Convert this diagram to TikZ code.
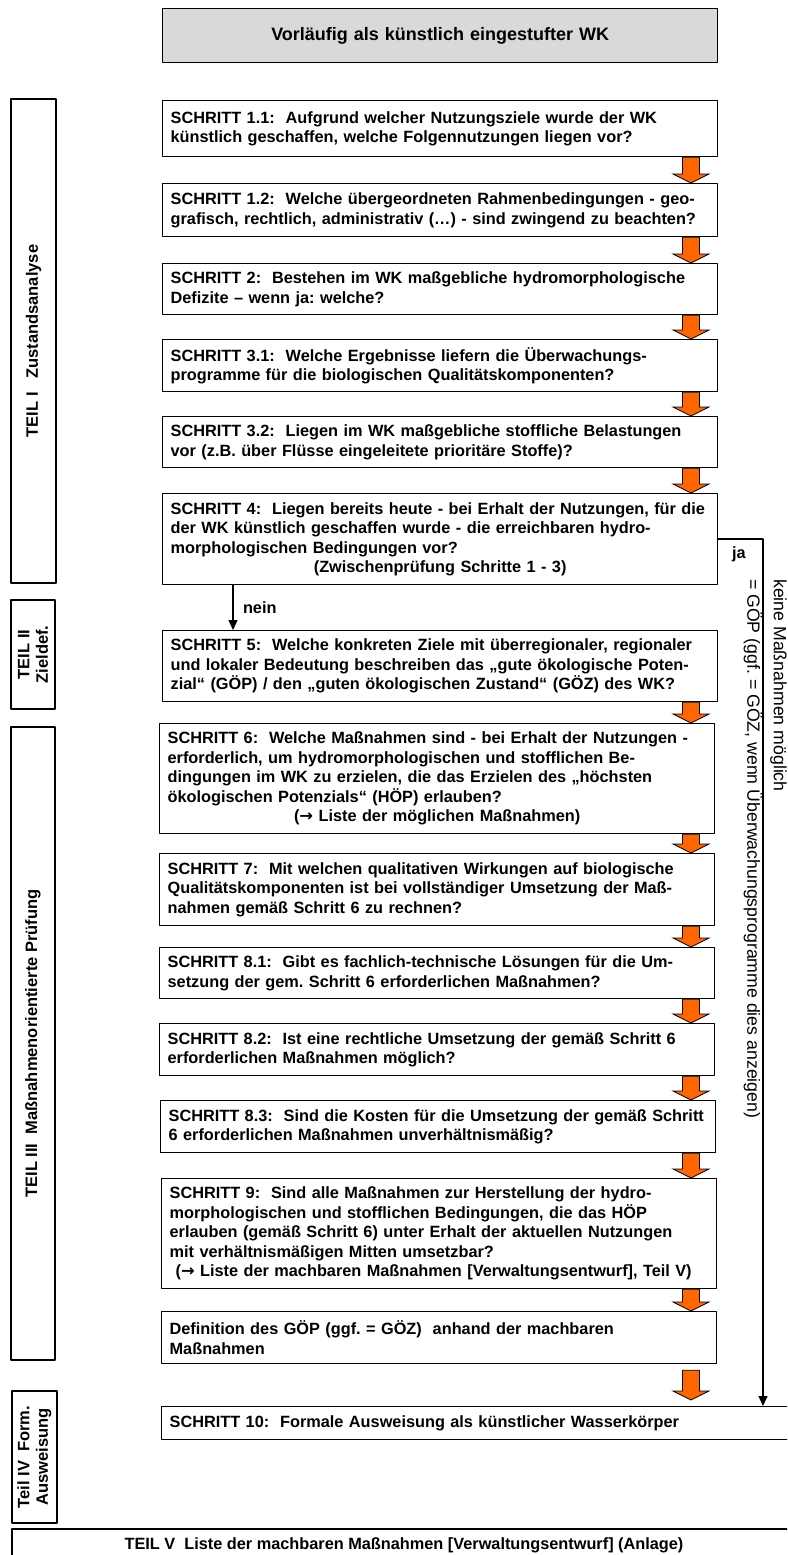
\documentclass[tikz,border=0pt]{standalone}
\usepackage{fontspec}
\setmainfont{Liberation Sans}
\newfontfamily\pfeilfont{DejaVu Sans}
\usetikzlibrary{calc,arrows.meta}

\definecolor{pfeilorange}{RGB}{255,102,0}
\definecolor{kopfgrau}{RGB}{217,217,217}

\newcommand{\titelfont}{\fontsize{18}{21}\selectfont\bfseries}
\newcommand{\schrittfont}{\fontsize{16.3}{19.5}\selectfont\bfseries}
\newcommand{\teilfont}{\fontsize{16.5}{18.5}\selectfont\bfseries}
\newcommand{\hinweisfont}{\fontsize{17.7}{26.5}\selectfont}
\newcommand{\pfeil}{{\pfeilfont\bfseries →}}

% orangener Blockpfeil von Kasten #2 nach Kasten #3 (#1 = Luft an beiden Enden)
\newcommand{\blockpfeil}[3][0pt]{%
  \draw[blockpfeilstil] let \p1=(#2.south -| pfeilx), \p2=(#3.north -| pfeilx) in
    (\x1-8.5pt,\y1-#1) -- (\x1+8.5pt,\y1-#1) -- (\x1+8.5pt,\y2+9pt+#1)
    -- (\x1+18pt,\y2+9pt+#1) -- (\x1,\y2+#1) -- (\x1-18pt,\y2+9pt+#1)
    -- (\x1-8.5pt,\y2+9pt+#1) -- cycle;}

\tikzset{
  kasten/.style={draw, line width=1.3pt, anchor=north west, inner xsep=8pt, inner ysep=0pt,
    text width=539pt, align=left, font=\schrittfont},
  teilkasten/.style={draw, line width=1.3pt, rotate=90, inner sep=0pt, align=center, font=\teilfont},
  blockpfeilstil/.style={draw=black, fill=pfeilorange, line width=0.8pt, line join=miter},
  verbinder/.style={line width=1.4pt, -{Triangle[length=10pt,width=9pt]}},
}

\begin{document}
\frenchspacing
\begin{tikzpicture}[x=1pt,y=-1pt, line join=round]
  \path[use as bounding box, fill=white] (0,0) rectangle (787,1555);
  \clip (0,0) rectangle (787,1555);
  % \draw[gray!40] (0,0) grid[step=50] (787,1555);
  \coordinate (pfeilx) at (691,0);
  \coordinate (neinx) at (233,0);
  \coordinate (jax) at (763,0);

  \node[kasten, fill=kopfgrau, align=center, font=\titelfont, minimum height=54pt] (titel) at (162,8)
    {Vorläufig als künstlich eingestufter WK};

  % Teil I
  \node[kasten, minimum height=56pt] (s11) at (162,100)
    {SCHRITT 1.1:\ \ Aufgrund welcher Nutzungsziele wurde der WK\\
     künstlich geschaffen, welche Folgennutzungen liegen vor?};
  \node[kasten, minimum height=53pt] (s12) at (162,183)
    {SCHRITT 1.2:\ \ Welche übergeordneten Rahmenbedingungen - geo-\\
     grafisch, rechtlich, administrativ (…) - sind zwingend zu beachten?};
  \node[kasten, minimum height=51pt] (s2) at (162,263)
    {SCHRITT 2:\ \ Bestehen im WK maßgebliche hydromorphologische\\
     Defizite – wenn ja: welche?};
  \node[kasten, minimum height=52pt] (s31) at (162,339)
    {SCHRITT 3.1:\ \ Welche Ergebnisse liefern die Überwachungs-\\
     programme für die biologischen Qualitätskomponenten?};
  \node[kasten, minimum height=51pt] (s32) at (162,416)
    {SCHRITT 3.2:\ \ Liegen im WK maßgebliche stoffliche Belastungen\\
     vor (z.B. über Flüsse eingeleitete prioritäre Stoffe)?};
  \node[kasten, minimum height=91pt] (s4) at (162,493)
    {SCHRITT 4:\ \ Liegen bereits heute - bei Erhalt der Nutzungen, für die\\
     der WK künstlich geschaffen wurde - die erreichbaren hydro-\\
     morphologischen Bedingungen vor?\\
     \makebox[\linewidth]{(Zwischenprüfung Schritte 1 - 3)}};

  % Teil II
  \node[kasten, minimum height=71pt] (s5) at (162,630)
    {SCHRITT 5:\ \ Welche konkreten Ziele mit überregionaler, regionaler\\
     und lokaler Bedeutung beschreiben das „gute ökologische Poten-\\
     zial“ (GÖP) / den „guten ökologischen Zustand“ (GÖZ) des WK?};

  % Teil III
  \node[kasten, minimum height=110pt] (s6) at (159,723)
    {SCHRITT 6:\ \ Welche Maßnahmen sind - bei Erhalt der Nutzungen -\\
     erforderlich, um hydromorphologischen und stofflichen Be-\\
     dingungen im WK zu erzielen, die das Erzielen des „höchsten\\
     ökologischen Potenzials“ (HÖP) erlauben?\\
     \makebox[\linewidth]{(\pfeil\ Liste der möglichen Maßnahmen)}};
  \node[kasten, minimum height=72pt] (s7) at (159,853)
    {SCHRITT 7:\ \ Mit welchen qualitativen Wirkungen auf biologische\\
     Qualitätskomponenten ist bei vollständiger Umsetzung der Maß-\\
     nahmen gemäß Schritt 6 zu rechnen?};
  \node[kasten, minimum height=51pt] (s81) at (159,947)
    {SCHRITT 8.1:\ \ Gibt es fachlich-technische Lösungen für die Um-\\
     setzung der gem. Schritt 6 erforderlichen Maßnahmen?};
  \node[kasten, minimum height=52pt] (s82) at (159,1023)
    {SCHRITT 8.2:\ \ Ist eine rechtliche Umsetzung der gemäß Schritt 6\\
     erforderlichen Maßnahmen möglich?};
  \node[kasten, minimum height=52pt] (s83) at (160,1100)
    {SCHRITT 8.3:\ \ Sind die Kosten für die Umsetzung der gemäß Schritt\\
     6 erforderlichen Maßnahmen unverhältnismäßig?};
  \node[kasten, minimum height=110pt] (s9) at (161,1178)
    {SCHRITT 9:\ \ Sind alle Maßnahmen zur Herstellung der hydro-\\
     morphologischen und stofflichen Bedingungen, die das HÖP\\
     erlauben (gemäß Schritt 6) unter Erhalt der aktuellen Nutzungen\\
     mit verhältnismäßigen Mitten umsetzbar?\\
     \hspace*{6pt}(\pfeil\ Liste der machbaren Maßnahmen [Verwaltungsentwurf], Teil V)};
  \node[kasten, minimum height=52pt] (sdef) at (161,1311)
    {Definition des GÖP (ggf. = GÖZ)\ \ anhand der machbaren\\
     Maßnahmen};

  % Teil IV
  \node[kasten, text width=630pt, minimum height=33pt] (s10) at (161,1406)
    {SCHRITT 10:\ \ Formale Ausweisung als künstlicher Wasserkörper};

  % Teil V
  \node[draw, line width=1.3pt, font=\schrittfont, minimum width=784pt, minimum height=32pt] (teil5) at (404,1545)
    {TEIL V\ \ Liste der machbaren Maßnahmen [Verwaltungsentwurf] (Anlage)};

  % linke Spalte
  \node[teilkasten, minimum width=484pt, minimum height=45pt] (teil1) at (33.5,341) {TEIL I\ \ \ Zustandsanalyse};
  \node[teilkasten, minimum width=109pt, minimum height=44pt] (teil2) at (33,654.5) {TEIL II\\Zieldef.};
  \node[teilkasten, minimum width=633pt, minimum height=44pt] (teil3) at (33,1043.5) {TEIL III\ \ Maßnahmenorientierte Prüfung};
  \node[teilkasten, minimum width=132pt, minimum height=45pt] (teil4) at (34.5,1457) {Teil IV\ \ Form.\\Ausweisung};

  % Blockpfeile
  \blockpfeil{s11}{s12}
  \blockpfeil{s12}{s2}
  \blockpfeil{s2}{s31}
  \blockpfeil{s31}{s32}
  \blockpfeil{s32}{s4}
  \blockpfeil{s5}{s6}
  \blockpfeil{s6}{s7}
  \blockpfeil{s7}{s81}
  \blockpfeil{s81}{s82}
  \blockpfeil{s82}{s83}
  \blockpfeil{s83}{s9}
  \blockpfeil{s9}{sdef}
  \blockpfeil[6pt]{sdef}{s10}

  % ja / nein
  \draw[verbinder] (s4.south -| neinx) -- node[right, font=\schrittfont, xshift=6pt] (nein) {nein} (s5.north -| neinx);
  \draw[verbinder] (s4.east) -- (s4.east -| jax) -- (s10.north -| jax);
  \node[font=\schrittfont] (ja) at (739,554) {ja};

  \node[rotate=-90, anchor=north west, align=left, inner sep=0pt, font=\hinweisfont] (hinweis) at (787,579)
    {keine Maßnahmen möglich\\= GÖP (ggf. = GÖZ, wenn Überwachungsprogramme dies anzeigen)};
\end{tikzpicture}
\end{document}
